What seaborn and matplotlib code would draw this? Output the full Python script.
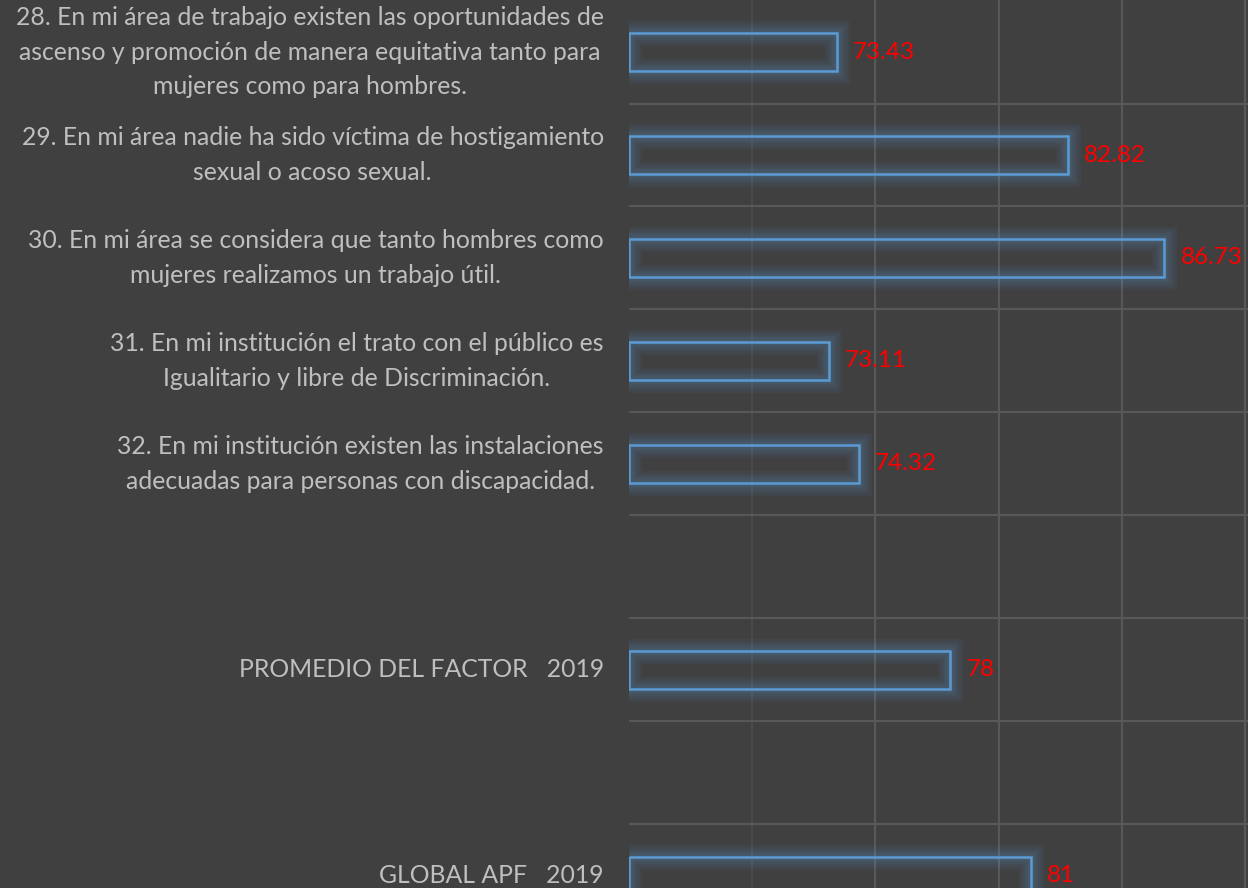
import numpy as np
import pandas as pd
import seaborn as sns
import matplotlib.pyplot as plt
import matplotlib.patheffects as pe

# data
questions = [
    "28. En mi área de trabajo existen las oportunidades de\n"
    "ascenso y promoción de manera equitativa tanto para\n"
    "mujeres como para hombres.",
    "29. En mi área nadie ha sido víctima de hostigamiento\n"
    "sexual o acoso sexual.",
    "30. En mi área se considera que tanto hombres como\n"
    "mujeres realizamos un trabajo útil.",
    "31. En mi institución el trato con el público es\n"
    "Igualitario y libre de Discriminación.",
    "32. En mi institución existen las instalaciones\n"
    "adecuadas para personas con discapacidad.",
]
summary = ["PROMEDIO DEL FACTOR   2019", "GLOBAL APF   2019"]
scores = [73.43, 82.82, 86.73, 73.11, 74.32, 78.05, 81.3]
score_text = ["73.43", "82.82", "86.73", "73.11", "74.32", "78", "81"]
x_min = 65  # value axis starts here, bars grow from it

# row order, with two empty rows as spacers
order = questions + ["gap1", summary[0], "gap2", summary[1]]
tick_text = questions + ["", summary[0], "", summary[1]]

bg = "#404040"
grid_col = "#585858"
blue = "#5B9BD5"
txt_col = "#BFBFBF"

sns.set_theme(style="dark", rc={"axes.facecolor": bg, "figure.facecolor": bg})
plt.rcParams["font.family"] = ["Lato", "DejaVu Sans"]

df = pd.DataFrame({"item": questions + summary, "score": scores})

fig = plt.figure(figsize=(12.48, 8.88), dpi=100)
ax = fig.add_axes([628.75 / 1248, 0, 1 - 628.75 / 1248, 1])

sns.barplot(data=df, y="item", x="score", order=order, orient="h",
            width=0.36, errorbar=None, color=blue, ax=ax)

# soft glow: stacked wide strokes with low alpha
glow = [pe.Stroke(linewidth=lw, foreground=blue, alpha=0.055)
        for lw in (18, 15, 12, 9.5, 7, 5)]
glow.append(pe.Normal())
for p in ax.patches:
    # start the bar at the axis minimum like the original
    w = p.get_width()
    p.set_x(x_min)
    p.set_width(w - x_min)
    p.set_facecolor("none")
    p.set_edgecolor(blue)
    p.set_linewidth(1.8)
    p.set_path_effects(glow)

ax.set_xticks([70, 75, 80, 85, 90])
ax.set_xticklabels([])
ax.set_yticks(range(len(order)))
ax.set_yticklabels(tick_text, fontsize=17.8, color=txt_col,
                   multialignment="center", linespacing=1.62)
for lbl in ax.get_yticklabels():
    lbl.set_verticalalignment("center")
ax.set_yticks(np.arange(0.5, len(order), 1), minor=True)
ax.set_xlim(x_min, 90.12)
ax.set_ylim(8.117, -0.505)
ax.tick_params(which="both", length=0)
ax.tick_params(axis="y", pad=18)
ax.set_xlabel("")
ax.set_ylabel("")

ax.grid(True, axis="x", which="major", color=grid_col, linewidth=1.5)
ax.grid(True, axis="y", which="minor", color=grid_col, linewidth=1.5)
ax.set_axisbelow(True)
ax.xaxis.get_gridlines()[0].set_alpha(0.45)
for s in ax.spines.values():
    s.set_visible(False)

# red value labels right of each bar
ypos = [order.index(c) for c in questions + summary]
for y, v, t in zip(ypos, scores, score_text):
    ax.annotate(t, xy=(v, y), xytext=(11.5, 0), textcoords="offset points",
                ha="left", va="center", color="#FF0000", fontsize=17.5,
                annotation_clip=False)

fig.savefig("out.png", dpi=100, facecolor=bg)
